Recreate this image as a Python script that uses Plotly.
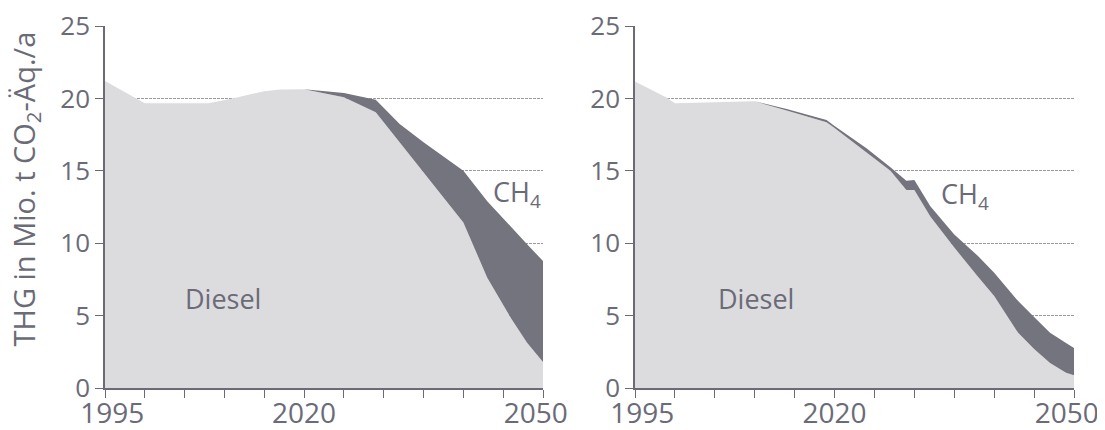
import plotly.graph_objects as go

# ---- data ----
years_left = [1995, 1999, 2000, 2008, 2011, 2015, 2017, 2020, 2025, 2029, 2032, 2035, 2040, 2043, 2046, 2048, 2050]
diesel_left = [21.2, 20.0, 19.67, 19.67, 20.0, 20.5, 20.62, 20.64, 20.08, 19.04, 16.95, 14.9, 11.43, 7.62, 4.8, 3.12, 1.8]
ch4_left = [0, 0, 0, 0, 0, 0, 0, 0, 0.30, 0.86, 1.29, 2.07, 3.57, 5.28, 6.28, 6.81, 6.97]

years_right = [1995, 1999, 2000, 2010, 2014, 2019, 2020, 2024, 2027, 2029, 2030, 2032, 2035, 2038, 2040, 2043, 2045, 2047, 2049, 2050]
diesel_right = [21.17, 20.04, 19.67, 19.8, 19.16, 18.35, 17.95, 16.3, 15.0, 13.67, 13.67, 11.85, 9.7, 7.66, 6.35, 3.81, 2.7, 1.73, 1.05, 0.88]
ch4_right = [0, 0, 0, 0, 0.11, 0.16, 0.15, 0.25, 0.24, 0.64, 0.69, 0.70, 0.90, 1.44, 1.61, 2.19, 2.2, 2.08, 2.05, 1.89]

x_tickvals = list(range(1995, 2051, 5))
x_labels = {1995: "1995", 2020: "2020", 2050: "2050"}
y_tickvals = [0, 5, 10, 15, 20, 25]

series_labels = ["Diesel", "CH<sub>4</sub>"]
y_title = "THG in Mio. t CO<sub>2</sub>-Äq./a"

# ---- styles ----
FONT = "Open Sans"
TXT = "#6b6b78"
LIGHT = "#dcdcdf"
DARK = "#74747f"
GRID = "#9a9aa0"
NB = "\u00a0\u00a0"  # pads end labels inward, as in the reference


def tick_text(v):
    if v not in x_labels:
        return ""
    t = x_labels[v]
    if v == x_tickvals[0]:
        return NB + t
    if v == x_tickvals[-1]:
        return t + NB
    return t


x_ticktext = [tick_text(v) for v in x_tickvals]

fig = go.Figure()
panels = [
    (years_left, diesel_left, ch4_left, "x", "y", "g1"),
    (years_right, diesel_right, ch4_right, "x2", "y2", "g2"),
]
for yrs, dsl, ch4, xa, ya, grp in panels:
    fig.add_trace(go.Scatter(x=yrs, y=dsl, stackgroup=grp, mode="lines",
                             line=dict(width=0), fillcolor=LIGHT, name="Diesel",
                             xaxis=xa, yaxis=ya, showlegend=False, hoverinfo="skip"))
    fig.add_trace(go.Scatter(x=yrs, y=ch4, stackgroup=grp, mode="lines",
                             line=dict(width=0), fillcolor=DARK, name="CH4",
                             xaxis=xa, yaxis=ya, showlegend=False, hoverinfo="skip"))

# page has an 8px body margin; figure is sized to fit the 1105x430 window
FIG_W, FIG_H = 1097, 422
L, R = 97, 1066
W = R - L
dom1 = [0, (535 - L) / W]
dom2 = [(627 - L) / W, 1]

xaxis_common = dict(range=[1995, 2050], tickvals=x_tickvals, ticktext=x_ticktext,
                    ticks="outside", ticklen=8, tickwidth=1.2, tickcolor=TXT,
                    showline=True, linecolor=TXT, linewidth=1.5, showgrid=False,
                    zeroline=False, automargin=False, ticklabeloverflow="allow",
                    ticklabelstandoff=-8,
                    tickfont=dict(family=FONT, size=28, color=TXT))
yaxis_common = dict(range=[0, 25], tickvals=y_tickvals, ticks="outside", ticklen=8,
                    tickwidth=1.2, tickcolor=TXT, showline=True, linecolor=TXT, linewidth=1.5,
                    showgrid=True, gridcolor=GRID, gridwidth=1, griddash="3px,1px",
                    zeroline=False, automargin=False, ticklabeloverflow="allow",
                    tickfont=dict(family=FONT, size=26, color=TXT))

fig.update_layout(
    width=FIG_W, height=FIG_H,
    margin=dict(l=L, r=FIG_W - R, t=18, b=42, autoexpand=False),
    paper_bgcolor="white", plot_bgcolor="white",
    xaxis=dict(domain=dom1, anchor="y", **xaxis_common),
    yaxis=dict(domain=[0, 1], anchor="x", **yaxis_common),
    xaxis2=dict(domain=dom2, anchor="y2", **xaxis_common),
    yaxis2=dict(domain=[0, 1], anchor="x2", **yaxis_common),
    font=dict(family=FONT, color=TXT),
)

ann_font = dict(family=FONT, size=27, color=TXT)
fig.add_annotation(x=2009.8, y=6.2, xref="x", yref="y", text=series_labels[0],
                   showarrow=False, font=ann_font, xanchor="center", yanchor="middle")
fig.add_annotation(x=2043.5, y=13.4, xref="x", yref="y", text=series_labels[1],
                   showarrow=False, font=ann_font, xanchor="left", yanchor="middle")
fig.add_annotation(x=2010.2, y=6.2, xref="x2", yref="y2", text=series_labels[0],
                   showarrow=False, font=ann_font, xanchor="center", yanchor="middle")
fig.add_annotation(x=2033.1, y=13.3, xref="x2", yref="y2", text=series_labels[1],
                   showarrow=False, font=ann_font, xanchor="left", yanchor="middle")
fig.add_annotation(x=-0.082, y=0.55, xref="paper", yref="paper", text=y_title,
                   textangle=-90, showarrow=False, font=dict(family=FONT, size=29, color=TXT),
                   xanchor="center", yanchor="middle")

fig.write_html("out.html")
